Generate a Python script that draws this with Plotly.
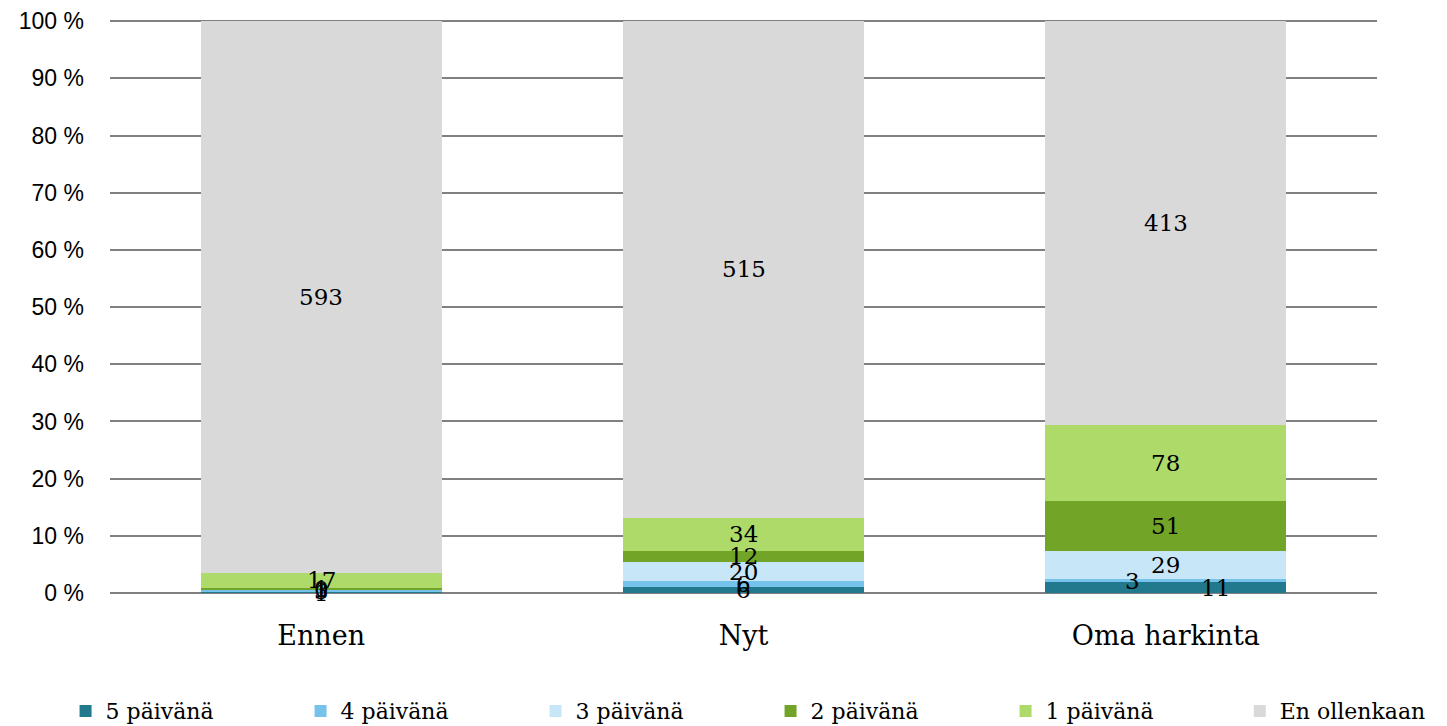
# -*- coding: utf-8 -*-

import numpy as np
import plotly.graph_objs as go

categories = ["Ennen", "Nyt", "Oma harkinta"]
series_names = ["5 päivänä", "4 päivänä", "3 päivänä", "2 päivänä", "1 päivänä", "En ollenkaan"]
series_values = [
    [1, 6, 11],
    [3, 6, 3],
    [0, 20, 29],
    [1, 12, 51],
    [17, 34, 78],
    [593, 515, 413],
]
colors = ["#22788C", "#75C2EB", "#C7E6F8", "#71A427", "#AEDA6A", "#D9D9D9"]
y_ticks = [0, 10, 20, 30, 40, 50, 60, 70, 80, 90, 100]
y_tick_labels = [f"{v} %" for v in y_ticks]

# label nudges (series, category) -> (xshift, yshift), as in the original
label_shift = {(0, 2): (50, 0), (1, 2): (-33, 0)}

legend_font = dict(family="DejaVu Serif", size=22, color="black")

fig = go.Figure()
for k, (name, vals, col) in enumerate(zip(series_names, series_values, colors)):
    fig.add_trace(
        go.Bar(
            x=categories,
            y=vals,
            name=name,
            marker=dict(color=col, line=dict(width=0)),
            hoverinfo="x+y+name",
            # last entry sits in its own legend so the row doesn't wrap
            legend="legend2" if k == len(series_names) - 1 else "legend",
        )
    )

# data labels at segment middles
values = np.array(series_values, dtype=float)
totals = values.sum(axis=0)
pct = values / totals * 100
cum = np.cumsum(pct, axis=0)
for i in range(len(series_names)):
    for j, cat in enumerate(categories):
        mid = cum[i, j] - pct[i, j] / 2
        dx, dy = label_shift.get((i, j), (0, 0))
        fig.add_annotation(
            x=cat,
            y=mid,
            text=str(int(values[i, j])),
            showarrow=False,
            xshift=dx,
            yshift=dy,
            font=dict(family="DejaVu Serif", size=23, color="black"),
        )

fig.update_layout(
    barmode="stack",
    barnorm="percent",
    bargap=0.43,
    width=1439,
    height=718,
    margin=dict(l=102, r=70, t=12, b=133, autoexpand=False),
    plot_bgcolor="white",
    paper_bgcolor="white",
    showlegend=True,
    legend=dict(
        orientation="h",
        x=0.04,
        xanchor="left",
        xref="container",
        y=0.05,
        yanchor="top",
        yref="container",
        entrywidth=190,
        font=legend_font,
        traceorder="normal",
        itemwidth=30,
    ),
    legend2=dict(
        orientation="h",
        x=0.856,
        xanchor="left",
        xref="container",
        y=0.05,
        yanchor="top",
        yref="container",
        font=legend_font,
        itemwidth=30,
    ),
    xaxis=dict(
        tickfont=dict(family="DejaVu Serif", size=27, color="black"),
        showline=False,
        ticks="",
        ticklabelstandoff=24,
    ),
    yaxis=dict(
        range=[0, 100.2],
        tickmode="array",
        tickvals=y_ticks,
        ticktext=y_tick_labels,
        tickfont=dict(family="Liberation Sans", size=23, color="black"),
        ticklabeloverflow="allow",
        showgrid=True,
        gridcolor="#808080",
        gridwidth=2,
        zeroline=True,
        zerolinecolor="#808080",
        zerolinewidth=2,
        ticklabelstandoff=25,
    ),
)

fig.write_html("out.html")
